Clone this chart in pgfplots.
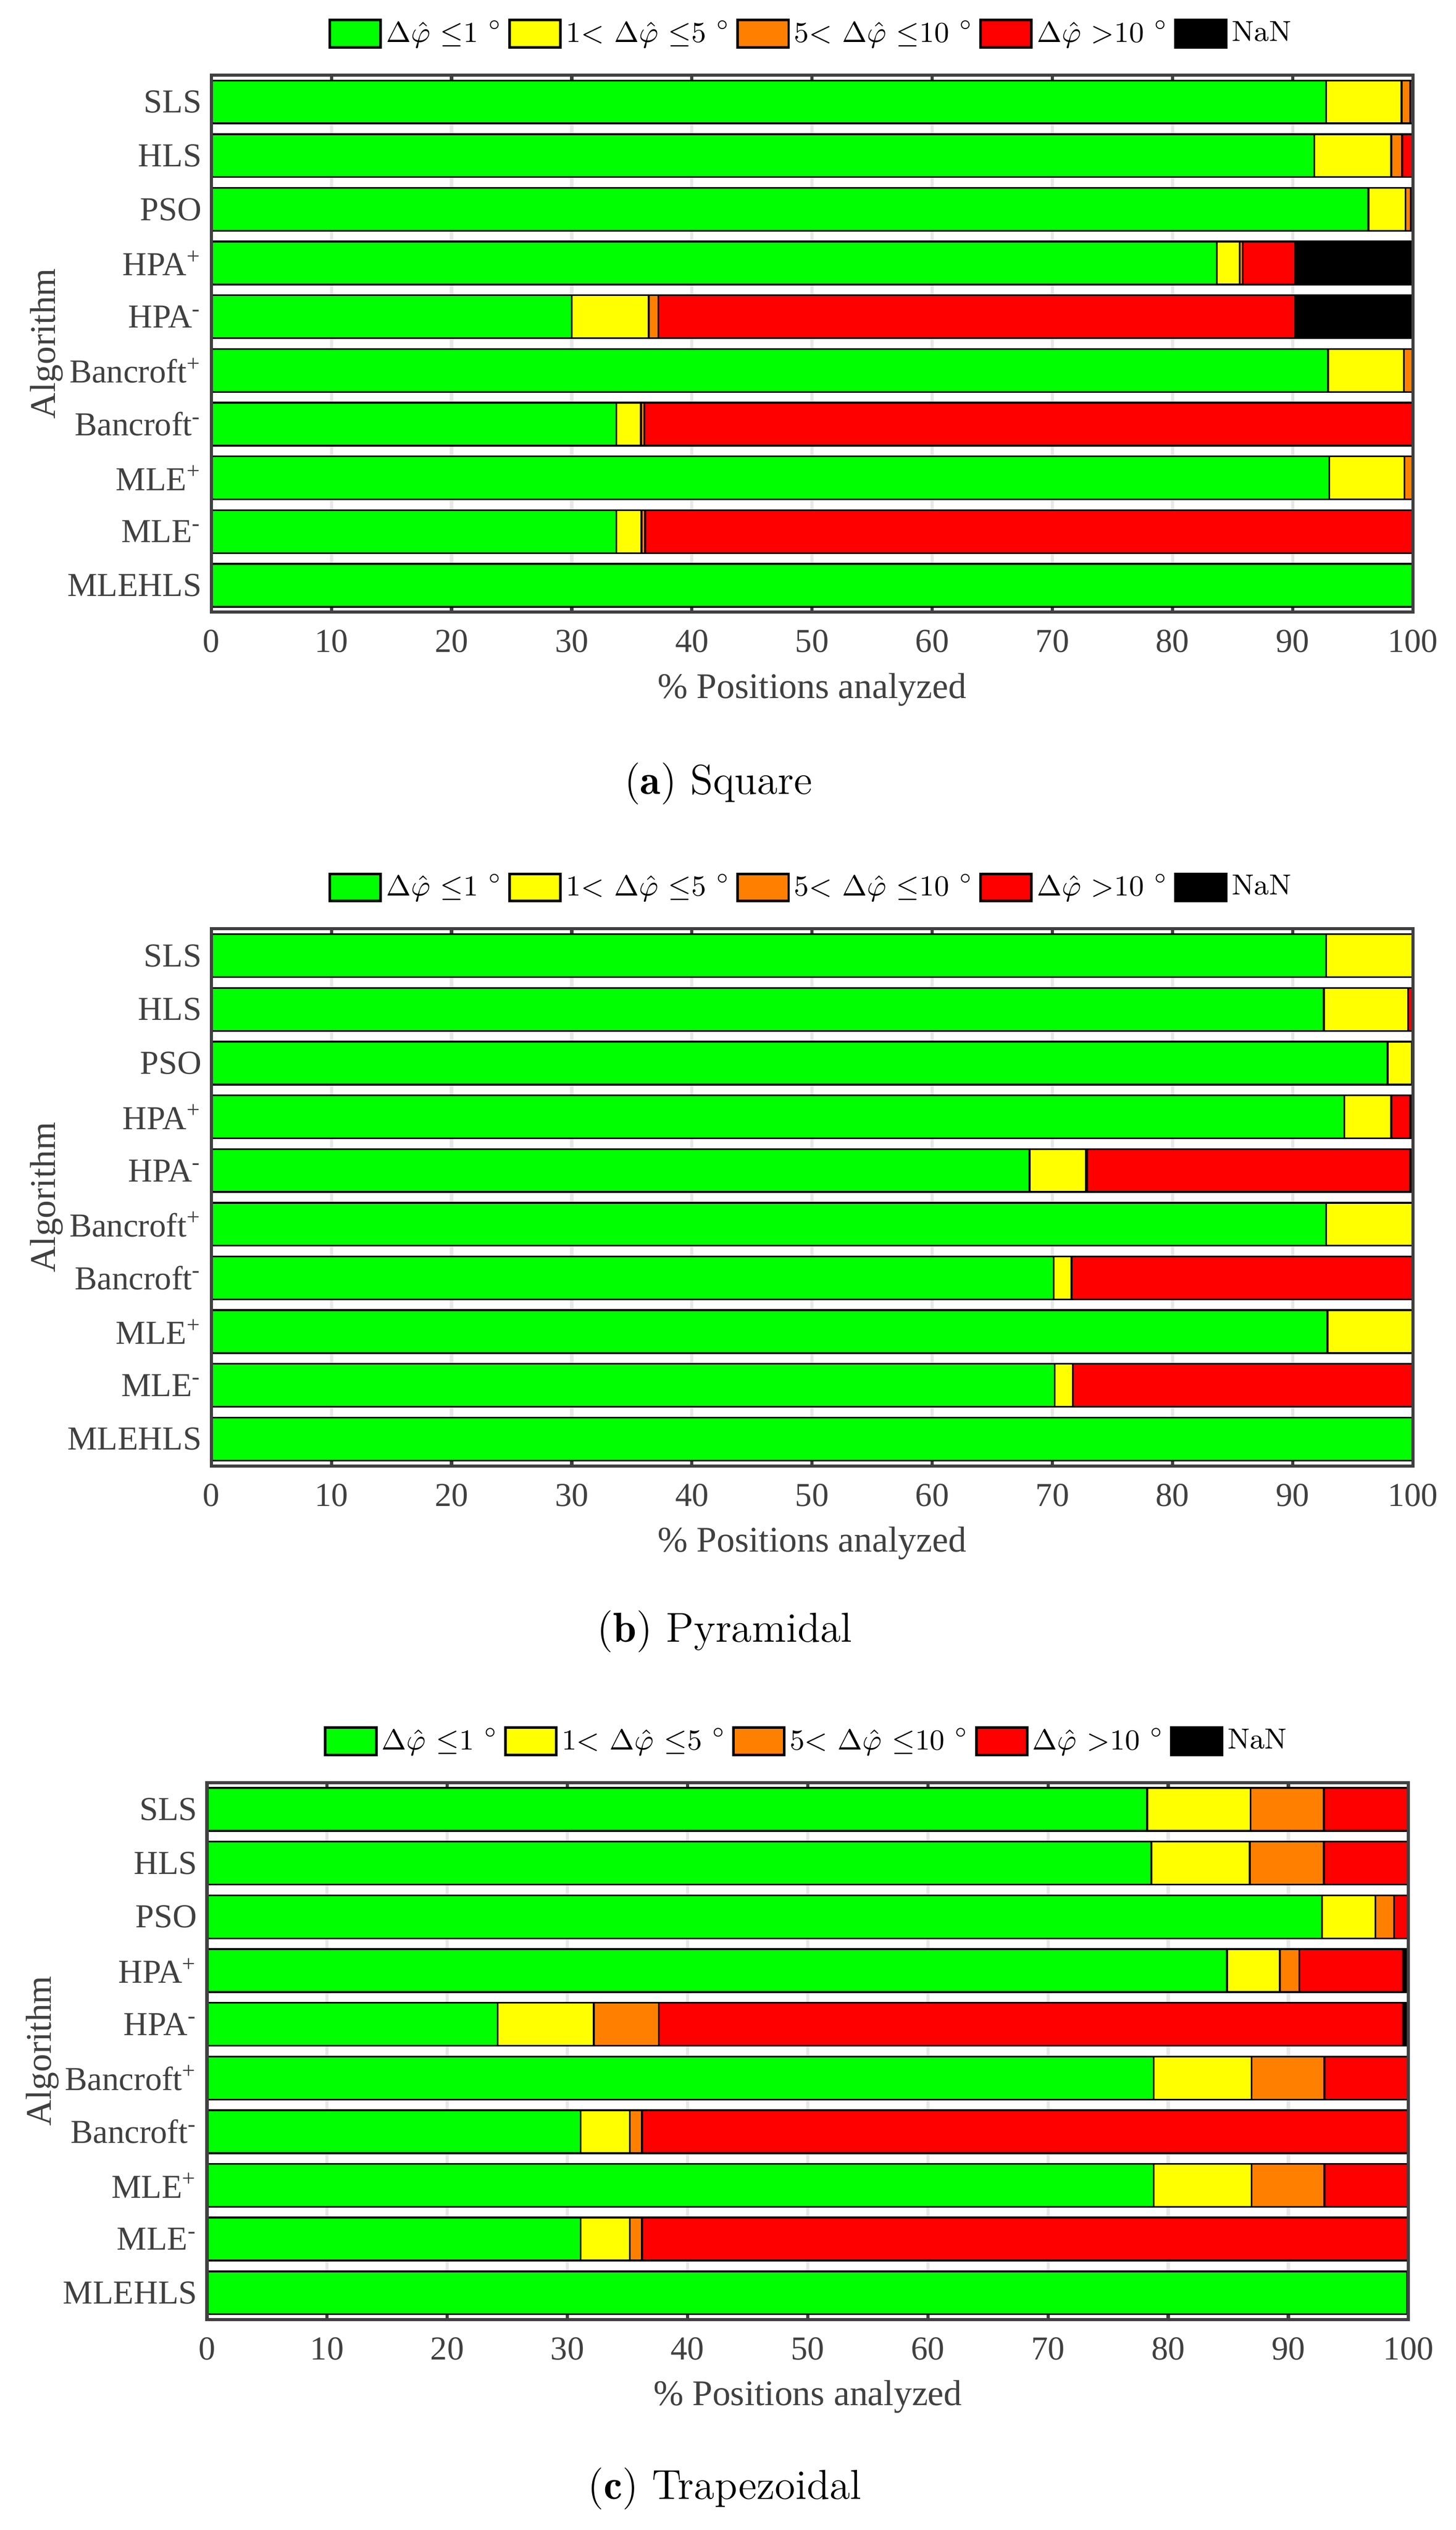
\documentclass[border=0pt]{standalone}
\usepackage[no-math]{fontspec}
\setmainfont{Liberation Serif}
\usepackage{pgfplots}
\usepackage{pgfplotstable}
\pgfplotsset{compat=1.18}

\definecolor{cgreen}{RGB}{0,255,0}
\definecolor{cyellow}{RGB}{255,255,0}
\definecolor{corange}{RGB}{255,128,0}
\definecolor{cred}{RGB}{255,0,0}
\definecolor{framegray}{RGB}{64,64,64}
\definecolor{labelgray}{RGB}{64,64,64}
\definecolor{gridgray}{RGB}{232,232,232}

% Square
\pgfplotstableread{
pos g y o r n
1 92.8 6.26 0.71 0.23 0
2 91.8 6.4 0.9 0.9 0
3 96.3 3.1 0.45 0.15 0
4 83.7 1.9 0.25 4.35 9.8
5 30.0 6.4 0.8 53.0 9.8
6 92.95 6.3 0.7 0.05 0
7 33.7 2.05 0.3 63.95 0
8 93.05 6.25 0.7 0 0
9 33.7 2.1 0.3 63.9 0
10 100 0 0 0 0
}\tabA
% Pyramidal
\pgfplotstableread{
pos g y o r n
1 92.8 7.2 0 0 0
2 92.6 7.0 0 0.4 0
3 97.9 2.0 0 0.1 0
4 94.3 3.9 0 1.6 0.2
5 68.1 4.7 0.1 26.9 0.2
6 92.8 7.15 0 0.05 0
7 70.1 1.5 0 28.4 0
8 92.9 7.1 0 0 0
9 70.2 1.5 0 28.3 0
10 100 0 0 0 0
}\tabB
% Trapezoidal
\pgfplotstableread{
pos g y o r n
1 78.25 8.6 6.1 7.05 0
2 78.6 8.2 6.15 7.05 0
3 92.8 4.45 1.55 1.2 0
4 84.9 4.4 1.6 8.65 0.45
5 24.2 8.0 5.4 61.95 0.45
6 78.8 8.15 6.05 7.0 0
7 31.1 4.1 1.0 63.8 0
8 78.8 8.15 6.05 7.0 0
9 31.1 4.1 1.0 63.8 0
10 99.9 0 0 0 0.1
}\tabC

\pgfplotsset{
  layers/mylayers/.define layer set={axis background,axis grid,axis ticks,main,axis lines,axis tick labels,axis descriptions,axis foreground}{/pgfplots/layers/standard},
  mylegend/.style={legend image code/.code={\draw[##1,line width=0.8pt] (0pt,-4.25pt) rectangle (15.8pt,4.25pt);}},
  panel/.style={
    set layers=mylayers,
    scale only axis, width=373pt, height=166.7pt,
    xbar stacked, bar width=0.8,
    xmin=0, xmax=100, ymin=0.5, ymax=10.5, y dir=reverse,
    xtick={0,10,...,100}, ytick={1,...,10},
    yticklabels={SLS,HLS,PSO,HPA\textsuperscript{+},HPA\textsuperscript{-},Bancroft\textsuperscript{+},Bancroft\textsuperscript{-},MLE\textsuperscript{+},MLE\textsuperscript{-},MLEHLS},
    xtick pos=both, ytick pos=left,
    tick align=inside, major tick length=1.7pt,
    every tick/.style={color=framegray, line width=1pt},
    xmajorgrids, grid style={color=gridgray, line width=1pt},
    axis line style={color=framegray, line width=1pt},
    ticklabel style={color=labelgray, font=\fontsize{10.4}{12}\selectfont},
    /pgf/number format/assume math mode=true,
    xticklabel style={yshift=-2pt},
    yticklabel style={xshift=0.5pt},
    xlabel={\% Positions analyzed}, ylabel={Algorithm},
    xlabel style={at={(axis description cs:0.5,-0.144)}, anchor=center, color=labelgray, font=\fontsize{11.2}{13}\selectfont},
    ylabel style={at={(axis description cs:-0.1370,0.5)}, anchor=center, color=labelgray, font=\fontsize{11.2}{13}\selectfont},
    legend columns=5,
    legend cell align=left,
    legend style={at={(0.5,1.077)}, anchor=center, draw=none, fill=none, inner sep=0pt,
      font={\fontsize{9}{11}\fontfamily{lmr}\selectfont},
      nodes={inner sep=1.3pt},
      /tikz/every even column/.append style={column sep=0.6pt}},
  },
  barg/.style={fill=cgreen, draw=black, line width=0.55pt, mylegend},
  bary/.style={fill=cyellow, draw=black, line width=0.55pt, mylegend},
  baro/.style={fill=corange, draw=black, line width=0.55pt, mylegend},
  barr/.style={fill=cred, draw=black, line width=0.55pt, mylegend},
  barn/.style={fill=black, draw=black, line width=0.55pt, mylegend},
}

\begin{document}
\begin{tikzpicture}

% ---------- (a) Square
\begin{axis}[panel, at={(65.6pt,-190pt)}, anchor=south west]
\addplot[barg] table[x=g,y=pos]{\tabA};
\addlegendentry{$\Delta\hat{\varphi}$ $\leq$1 $^\circ$}
\addplot[bary] table[x=y,y=pos]{\tabA};
\addlegendentry{1$<$ $\Delta\hat{\varphi}$ $\leq$5 $^\circ$}
\addplot[baro] table[x=o,y=pos]{\tabA};
\addlegendentry{5$<$ $\Delta\hat{\varphi}$ $\leq$10 $^\circ$}
\addplot[barr] table[x=r,y=pos]{\tabA};
\addlegendentry{$\Delta\hat{\varphi}$ $>$10 $^\circ$}
\addplot[barn] table[x=n,y=pos]{\tabA};
\addlegendentry{NaN}
\end{axis}

% ---------- (b) Pyramidal
\begin{axis}[panel, at={(65.6pt,-455pt)}, anchor=south west]
\addplot[barg] table[x=g,y=pos]{\tabB};
\addlegendentry{$\Delta\hat{\varphi}$ $\leq$1 $^\circ$}
\addplot[bary] table[x=y,y=pos]{\tabB};
\addlegendentry{1$<$ $\Delta\hat{\varphi}$ $\leq$5 $^\circ$}
\addplot[baro] table[x=o,y=pos]{\tabB};
\addlegendentry{5$<$ $\Delta\hat{\varphi}$ $\leq$10 $^\circ$}
\addplot[barr] table[x=r,y=pos]{\tabB};
\addlegendentry{$\Delta\hat{\varphi}$ $>$10 $^\circ$}
\addplot[barn] table[x=n,y=pos]{\tabB};
\addlegendentry{NaN}
\end{axis}

% ---------- (c) Trapezoidal
\begin{axis}[panel, at={(64.25pt,-720pt)}, anchor=south west]
\addplot[barg] table[x=g,y=pos]{\tabC};
\addlegendentry{$\Delta\hat{\varphi}$ $\leq$1 $^\circ$}
\addplot[bary] table[x=y,y=pos]{\tabC};
\addlegendentry{1$<$ $\Delta\hat{\varphi}$ $\leq$5 $^\circ$}
\addplot[baro] table[x=o,y=pos]{\tabC};
\addlegendentry{5$<$ $\Delta\hat{\varphi}$ $\leq$10 $^\circ$}
\addplot[barr] table[x=r,y=pos]{\tabC};
\addlegendentry{$\Delta\hat{\varphi}$ $>$10 $^\circ$}
\addplot[barn] table[x=n,y=pos]{\tabC};
\addlegendentry{NaN}
\end{axis}

\node[font={\fontsize{13}{15}\fontfamily{lmr}\selectfont}] at (223pt,-243.2pt) {(\textbf{a}) Square};
\node[font={\fontsize{13}{15}\fontfamily{lmr}\selectfont}] at (225pt,-506.5pt) {(\textbf{b}) Pyramidal};
\node[font={\fontsize{13}{15}\fontfamily{lmr}\selectfont}] at (225pt,-772.5pt) {(\textbf{c}) Trapezoidal};
\path (0pt,0pt) rectangle (452pt,-785.3pt);
\end{tikzpicture}
\end{document}
